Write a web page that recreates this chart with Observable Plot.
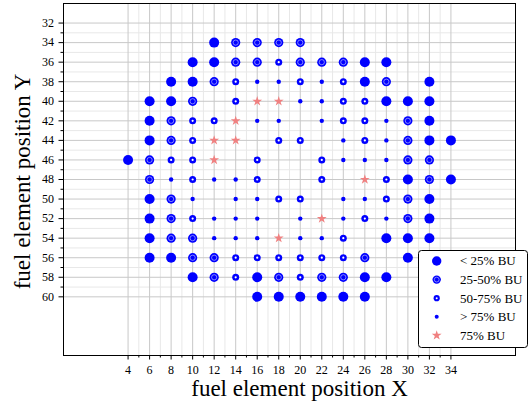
<!DOCTYPE html>
<html>
<head>
<meta charset="utf-8">
<script src="https://cdn.jsdelivr.net/npm/d3@7"></script>
<script src="https://cdn.jsdelivr.net/npm/@observablehq/plot@0.6"></script>
<style>
  html, body { margin: 0; padding: 0; background: white; }
</style>
</head>
<body>
<div id="chart"></div>
<script>
// ---- data (fuel element positions [X, Y]) ----
const lt25 = [
  [12,34],
  [10,36],[12,36],[26,36],[28,36],
  [8,38],[10,38],[26,38],[32,38],
  [6,40],[8,40],[28,40],[30,40],[32,40],
  [6,42],[32,42],
  [6,44],[32,44],[34,44],
  [4,46],
  [30,48],[34,48],
  [6,50],[32,50],
  [6,52],[32,52],
  [6,54],[28,54],[30,54],[32,54],
  [6,56],[8,56],[30,56],
  [10,58],[16,58],[26,58],[28,58],
  [16,60],[18,60],[20,60],[22,60],[24,60],[26,60]
];
const bu25to50 = [
  [14,34],[16,34],[18,34],[20,34],
  [14,36],[16,36],[20,36],[22,36],[24,36],
  [12,38],[28,38],
  [10,40],
  [8,42],[30,42],
  [8,44],[30,44],
  [6,46],[30,46],[32,46],
  [6,48],[32,48],
  [8,50],[30,50],
  [8,52],[30,52],
  [8,54],[10,54],
  [10,56],[12,56],[26,56],
  [12,58],[18,58],[22,58],[24,58]
];
const bu50to75 = [
  [18,36],
  [14,38],[20,38],[24,38],
  [14,40],[24,40],[26,40],
  [10,42],[12,42],[24,42],[26,42],
  [10,44],[18,44],[20,44],[26,44],
  [8,46],[10,46],[16,46],[22,46],
  [10,48],[16,48],[22,48],[28,48],
  [18,50],[20,50],[28,50],
  [10,52],[26,52],
  [24,54],
  [14,56],[16,56],[18,56],[20,56],[22,56],[24,56],
  [14,58],[20,58]
];
const gt75 = [
  [16,38],[18,38],[22,38],
  [20,40],[22,40],
  [16,42],[18,42],[22,42],[28,42],
  [24,44],[28,44],
  [24,46],[26,46],[28,46],
  [8,48],[12,48],[14,48],
  [10,50],[14,50],[16,50],[24,50],[26,50],
  [12,52],[14,52],[16,52],[20,52],[24,52],[28,52],
  [12,54],[14,54],[16,54],[20,54],[22,54]
];
const bu75 = [
  [16,40],[18,40],
  [14,42],
  [12,44],[14,44],
  [12,46],
  [26,48],
  [22,52],
  [18,54]
];
const xMajor = [4,6,8,10,12,14,16,18,20,22,24,26,28,30,32,34];
const xMinor = [5,7,9,11,13,15,17,19,21,23,25,27,29,31,33];
const yMajor = [32,34,36,38,40,42,44,46,48,50,52,54,56,58,60];
const yMinor = [33,35,37,39,41,43,45,47,49,51,53,55,57,59];
const legendLabels = ["< 25% BU", "25-50% BU", "50-75% BU", "> 75% BU", "75% BU"];
const xTitle = "fuel element position X";
const yTitle = "fuel element position Y";

const BLUE = "#0000ff";
const STAR = "#f08080";
const pos = {x: d => d[0], y: d => d[1]};

const svg = Plot.plot({
  width: 530,
  height: 405,
  marginLeft: 63,
  marginRight: 15,
  marginTop: 3,
  marginBottom: 50,
  style: {fontFamily: "'Liberation Serif', 'DejaVu Serif', serif", fontSize: "12px", background: "white", color: "black"},
  x: {domain: [-2, 40], axis: null},
  y: {domain: [30, 66], reverse: true, axis: null},
  marks: [
    Plot.gridX(xMinor, {stroke: "#e8e8e8", strokeOpacity: 1}),
    Plot.gridY(yMinor, {stroke: "#e8e8e8", strokeOpacity: 1}),
    Plot.gridX(xMajor, {stroke: "#c8c8c8", strokeOpacity: 1}),
    Plot.gridY(yMajor, {stroke: "#c8c8c8", strokeOpacity: 1}),
    Plot.axisX(xMajor, {tickSize: 4.5, tickPadding: 5, fontSize: 12, label: null}),
    Plot.axisX(xMinor, {tickSize: 2.5, text: null, label: null}),
    Plot.axisY(yMajor, {tickSize: 4.5, tickPadding: 5, fontSize: 12, label: null}),
    Plot.axisY(yMinor, {tickSize: 2.5, text: null, label: null}),
    Plot.dot(lt25, {...pos, r: 5, fill: BLUE}),
    Plot.dot(bu25to50, {...pos, r: 4.6, fill: BLUE}),
    Plot.dot(bu25to50, {...pos, r: 2.6, fill: "none", stroke: "white", strokeWidth: 0.9, strokeOpacity: 0.55}),
    Plot.dot(bu50to75, {...pos, r: 3.5, fill: BLUE}),
    Plot.dot(bu50to75, {...pos, r: 1.1, fill: "white"}),
    Plot.dot(gt75, {...pos, r: 2.2, fill: BLUE}),
    Plot.dot(bu75, {...pos, r: 3.1, symbol: "star", fill: STAR}),
    Plot.frame({stroke: "black", strokeWidth: 1}),
    Plot.text([xTitle], {frameAnchor: "bottom", dx: 10, dy: 33, text: d => d, fontSize: 23, textAnchor: "middle", lineAnchor: "middle", fill: "black"}),
    Plot.text([yTitle], {frameAnchor: "left", dx: -41, dy: 2, rotate: -90, text: d => d, fontSize: 23, textAnchor: "middle", lineAnchor: "middle", fill: "black"})
  ]
});

// ---- legend ----
const g = d3.select(svg).append("g").attr("text-anchor", "start");
g.append("rect")
  .attr("x", 418.5).attr("y", 250.5).attr("width", 109).attr("height", 97)
  .attr("rx", 3).attr("fill", "white").attr("stroke", "black").attr("stroke-width", 1);
const mx = 436.7, ly0 = 261, lstep = 18.6;
legendLabels.forEach((label, i) => {
  const y = ly0 + i * lstep;
  if (i === 0) {
    g.append("circle").attr("cx", mx).attr("cy", y).attr("r", 4.7).attr("fill", BLUE);
  } else if (i === 1) {
    g.append("circle").attr("cx", mx).attr("cy", y).attr("r", 4.2).attr("fill", BLUE);
    g.append("circle").attr("cx", mx).attr("cy", y).attr("r", 2.4).attr("fill", "none")
      .attr("stroke", "white").attr("stroke-width", 0.9).attr("stroke-opacity", 0.55);
  } else if (i === 2) {
    g.append("circle").attr("cx", mx).attr("cy", y).attr("r", 3.1).attr("fill", BLUE);
    g.append("circle").attr("cx", mx).attr("cy", y).attr("r", 1.0).attr("fill", "white");
  } else if (i === 3) {
    g.append("circle").attr("cx", mx).attr("cy", y).attr("r", 2.0).attr("fill", BLUE);
  } else {
    g.append("path").attr("transform", `translate(${mx},${y})`)
      .attr("d", d3.symbol(d3.symbolStar, Math.PI * 3.1 * 3.1)()).attr("fill", STAR);
  }
  g.append("text").attr("x", 460).attr("y", y).attr("dy", "0.34em")
    .attr("text-anchor", "start").attr("font-size", 13).attr("fill", "black").text(label);
});

document.getElementById("chart").appendChild(svg);
</script>
</body>
</html>
